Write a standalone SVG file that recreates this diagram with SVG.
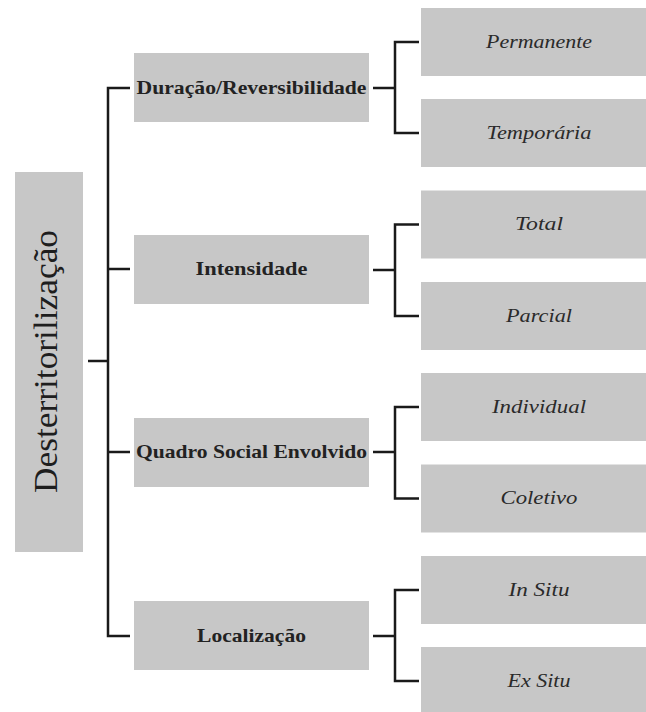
<svg xmlns="http://www.w3.org/2000/svg" width="646" height="712" viewBox="0 0 646 712">
<style>
.box{fill:#c7c7c7}
.root{font-family:"Liberation Serif","DejaVu Serif",serif;font-size:34px;fill:#1e1e1e;text-anchor:middle}
.l1{font-family:"Liberation Serif","DejaVu Serif",serif;font-size:19px;font-weight:bold;fill:#222;text-anchor:middle}
.leaf{font-family:"Liberation Serif","DejaVu Serif",serif;font-size:19px;font-style:italic;fill:#2a2a2a;text-anchor:middle}
.ln{fill:none;stroke:#1a1a1a;stroke-width:2.5}
</style>
<rect width="646" height="712" fill="#ffffff"/>
<g id="connectors">
<path class="ln" d="M88,361 H108"/>
<path class="ln" d="M130,88 H108 V636 H130"/>
<path class="ln" d="M108,269 H130"/>
<path class="ln" d="M108,452 H130"/>
<path class="ln" d="M373,88 H395 M419,42 H395 V133 H419"/>
<path class="ln" d="M373,270 H395 M419,224.5 H395 V316 H419"/>
<path class="ln" d="M373,452 H395 M419,407 H395 V498.5 H419"/>
<path class="ln" d="M373,636 H395 M419,590 H395 V681 H419"/>
</g>
<g id="root">
<rect class="box" x="15" y="172" width="68" height="380"/>
<text class="root" transform="translate(57,361.5) rotate(-90)" textLength="263" lengthAdjust="spacingAndGlyphs">Desterritorilização</text>
</g>
<g id="duracao">
<rect class="box" x="134" y="53" width="235" height="69"/>
<text class="l1" x="251.5" y="94" textLength="230" lengthAdjust="spacingAndGlyphs">Duração/Reversibilidade</text>
</g>
<g id="intensidade">
<rect class="box" x="134" y="235" width="235" height="69"/>
<text class="l1" x="251.5" y="275" textLength="112" lengthAdjust="spacingAndGlyphs">Intensidade</text>
</g>
<g id="quadro">
<rect class="box" x="134" y="418" width="235" height="69"/>
<text class="l1" x="251.5" y="458" textLength="231" lengthAdjust="spacingAndGlyphs">Quadro Social Envolvido</text>
</g>
<g id="localizacao">
<rect class="box" x="134" y="601" width="235" height="69"/>
<text class="l1" x="251.5" y="642" textLength="109" lengthAdjust="spacingAndGlyphs">Localização</text>
</g>
<g id="permanente">
<rect class="box" x="421" y="8" width="237" height="68"/>
<text class="leaf" x="539" y="48" textLength="106" lengthAdjust="spacingAndGlyphs">Permanente</text>
</g>
<g id="temporaria">
<rect class="box" x="421" y="99" width="237" height="68"/>
<text class="leaf" x="539" y="139" textLength="105" lengthAdjust="spacingAndGlyphs">Temporária</text>
</g>
<g id="total">
<rect class="box" x="421" y="190.5" width="237" height="68"/>
<text class="leaf" x="539" y="230" textLength="48" lengthAdjust="spacingAndGlyphs">Total</text>
</g>
<g id="parcial">
<rect class="box" x="421" y="282" width="237" height="68"/>
<text class="leaf" x="539" y="322" textLength="66" lengthAdjust="spacingAndGlyphs">Parcial</text>
</g>
<g id="individual">
<rect class="box" x="421" y="373" width="237" height="68"/>
<text class="leaf" x="539" y="413" textLength="94" lengthAdjust="spacingAndGlyphs">Individual</text>
</g>
<g id="coletivo">
<rect class="box" x="421" y="464.5" width="237" height="68"/>
<text class="leaf" x="539" y="504" textLength="77" lengthAdjust="spacingAndGlyphs">Coletivo</text>
</g>
<g id="insitu">
<rect class="box" x="421" y="556" width="237" height="68"/>
<text class="leaf" x="539" y="596" textLength="61" lengthAdjust="spacingAndGlyphs">In Situ</text>
</g>
<g id="exsitu">
<rect class="box" x="421" y="647" width="237" height="68"/>
<text class="leaf" x="539" y="687" textLength="63" lengthAdjust="spacingAndGlyphs">Ex Situ</text>
</g>
</svg>
